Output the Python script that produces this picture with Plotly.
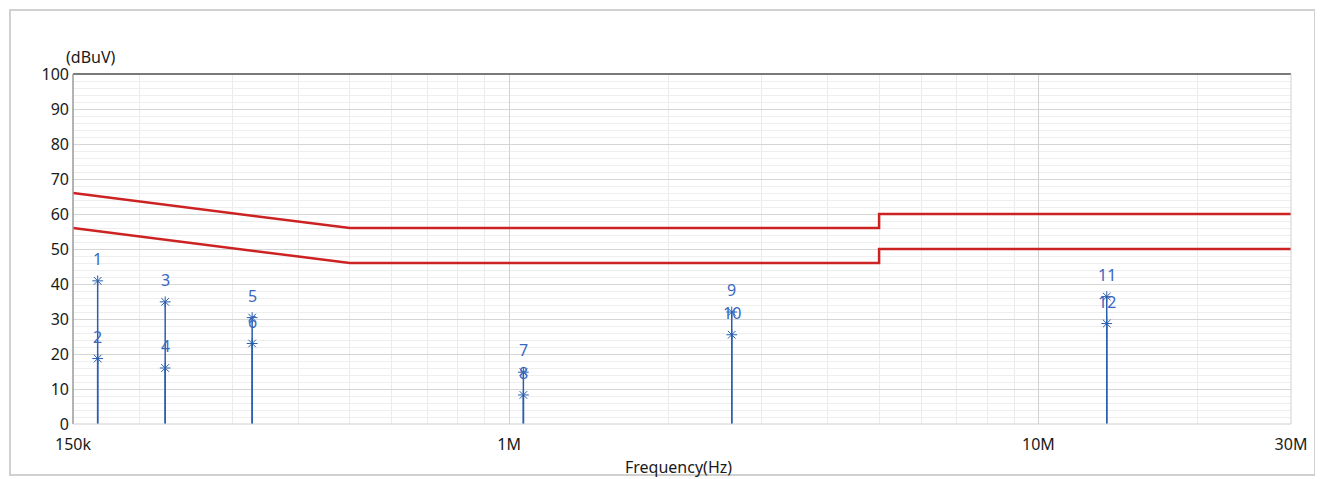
import math
import plotly.graph_objects as go

# ---- data ----
limit_qp_freq = [150e3, 500e3, 5e6, 5e6, 30e6]
limit_qp_level = [66, 56, 56, 60, 60]
limit_av_freq = [150e3, 500e3, 5e6, 5e6, 30e6]
limit_av_level = [56, 46, 46, 50, 50]

marker_freq = [167e3, 167e3, 224e3, 224e3, 327e3, 327e3,
               1.064e6, 1.064e6, 2.634e6, 2.634e6, 13.46e6, 13.46e6]
marker_level = [40.9, 18.7, 34.9, 16.0, 30.4, 23.0,
                14.8, 8.3, 32.0, 25.5, 36.4, 28.7]
marker_label = [str(i) for i in range(1, 13)]

x_tick_vals = [150e3, 1e6, 10e6, 30e6]
x_tick_text = ["150k", "1M", "10M", "30M"]
x_minor_vals = [2e5, 3e5, 4e5, 5e5, 6e5, 7e5, 8e5, 9e5,
                2e6, 3e6, 4e6, 5e6, 6e6, 7e6, 8e6, 9e6, 2e7]
y_tick_vals = list(range(0, 101, 10))

FONT = "Noto Sans"
BLUE = "#2a5fae"
LABEL_BLUE = "#3a68c0"
RED = "#cc2222"
TXT = "#1a1a1a"

fig = go.Figure()

# stems: from 0 up to each marker
stem_x, stem_y = [], []
for f, v in zip(marker_freq, marker_level):
    stem_x += [f, f, None]
    stem_y += [0, v, None]
fig.add_trace(go.Scatter(x=stem_x, y=stem_y, mode="lines",
                         line=dict(color=BLUE, width=1.5),
                         hoverinfo="skip", showlegend=False))

fig.add_trace(go.Scatter(x=limit_qp_freq, y=limit_qp_level, mode="lines",
                         line=dict(color=RED, width=2.5), showlegend=False))
fig.add_trace(go.Scatter(x=limit_av_freq, y=limit_av_level, mode="lines",
                         line=dict(color=RED, width=2.5), showlegend=False))

fig.add_trace(go.Scatter(x=marker_freq, y=marker_level, mode="markers",
                         marker=dict(symbol="asterisk-open", size=9, color=BLUE,
                                     line=dict(color=BLUE, width=1)),
                         showlegend=False))

for f, v, t in zip(marker_freq, marker_level, marker_label):
    fig.add_annotation(x=math.log10(f), y=v, text=t, showarrow=False, yshift=22,
                       xanchor="center", yanchor="middle",
                       font=dict(family=FONT, size=16, color=LABEL_BLUE))

# axis frame lines
fig.add_shape(type="line", xref="paper", yref="paper", x0=0, x1=1, y0=1, y1=1,
              line=dict(color="#7a7a7a", width=2))
fig.add_shape(type="line", xref="paper", yref="paper", x0=0, x1=0, y0=0, y1=1,
              line=dict(color="#9a9a9a", width=1.5))
fig.add_shape(type="line", xref="paper", yref="paper", x0=1, x1=1, y0=0, y1=1,
              line=dict(color="#d0d0d0", width=1))
fig.add_shape(type="line", xref="paper", yref="paper", x0=0, x1=1, y0=0, y1=0,
              line=dict(color="#d0d0d0", width=1))

# outer frame
fig.add_shape(type="rect", xref="paper", yref="paper",
              x0=-63 / 1218, x1=1 + 24 / 1218, y0=-51 / 350, y1=1 + 64 / 350,
              line=dict(color="#d0d0d0", width=2))

fig.add_annotation(xref="paper", yref="paper", x=-9 / 1218, y=1 + 17 / 350,
                   text="(dBuV)", showarrow=False, xanchor="left", yanchor="middle",
                   font=dict(family=FONT, size=16, color=TXT))
fig.add_annotation(xref="paper", yref="paper", x=0.4975, y=-43 / 350,
                   text="Frequency(Hz)", showarrow=False, xanchor="center",
                   yanchor="middle",
                   font=dict(family=FONT, size=16, color=TXT))

fig.update_layout(
    width=1315, height=471,
    margin=dict(l=65, r=32, t=66, b=55),
    paper_bgcolor="white", plot_bgcolor="white",
    xaxis=dict(type="log", range=[5.1760913, 7.4771213],
               tickmode="array", tickvals=x_tick_vals, ticktext=x_tick_text,
               showgrid=True, gridcolor="#d2d2d2", gridwidth=1,
               ticks="outside", ticklen=6, tickcolor="rgba(0,0,0,0)",
               showline=False, zeroline=False,
               tickfont=dict(family=FONT, size=16, color=TXT),
               minor=dict(tickmode="array", tickvals=x_minor_vals,
                          showgrid=True, gridcolor="#ebebeb", gridwidth=1,
                          ticks=""),
               ),
    yaxis=dict(range=[0, 100], tickmode="array", tickvals=y_tick_vals,
               showgrid=True, gridcolor="#d6d6d6", gridwidth=1,
               ticks="", showline=False, zeroline=False, ticklabelstandoff=3,
               tickfont=dict(family=FONT, size=16, color=TXT),
               minor=dict(dtick=2, showgrid=True, gridcolor="#eeeeee",
                          gridwidth=1, ticks=""),
               ),
)

fig.write_html("out.html")
